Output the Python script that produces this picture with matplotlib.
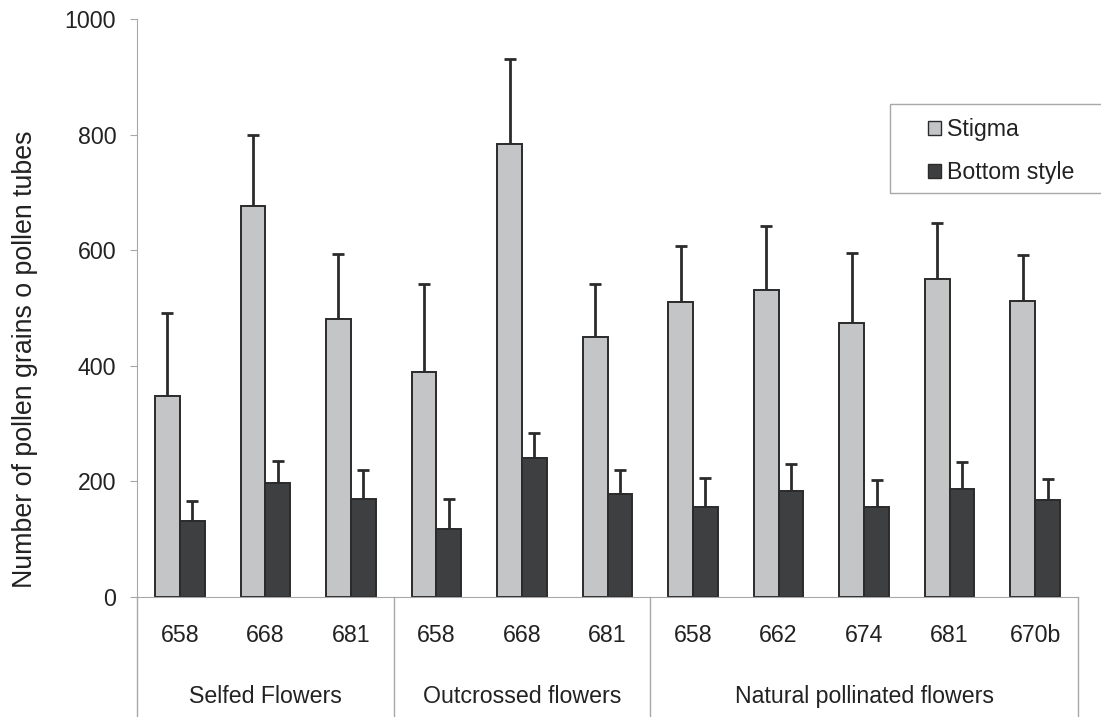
import numpy as np
import matplotlib
matplotlib.use("Agg")
import matplotlib.pyplot as plt
import matplotlib.transforms as mtransforms
from matplotlib.patches import Patch, Rectangle

plt.rcParams["font.family"] = ["Liberation Sans", "DejaVu Sans"]

# data
lines = ["658", "668", "681", "658", "668", "681", "658", "662", "674", "681", "670b"]
groups = ["Selfed Flowers", "Outcrossed flowers", "Natural pollinated flowers"]
group_sizes = [3, 3, 5]

stigma = [347, 677, 481, 390, 783, 450, 511, 532, 474, 551, 512]
stigma_err = [144, 122, 112, 152, 148, 92, 97, 110, 122, 96, 79]
bottom = [132, 197, 169, 118, 240, 178, 156, 183, 155, 186, 168]
bottom_err = [34, 38, 50, 51, 44, 41, 50, 47, 47, 47, 37]

LIGHT = "#c4c5c7"
DARK = "#3e3f41"
EDGE = "#2b2b2b"
AXGRAY = "#a8a8a8"
TXT = "#222222"
FS = 16.7

W, H = 1101, 717
fig = plt.figure(figsize=(W / 100, H / 100), dpi=100)
ax = fig.add_axes([137 / W, (H - 597) / H, (1078 - 137) / W, 578 / H])

x = np.arange(len(lines))
w = 0.29
ax.bar(x - w / 2, stigma, w, color=LIGHT, edgecolor=EDGE, linewidth=1.4, zorder=2)
ax.bar(x + w / 2, bottom, w, color=DARK, edgecolor=EDGE, linewidth=1.4, zorder=2)
ax.errorbar(x - w / 2, stigma, yerr=[np.zeros(len(x)), stigma_err], fmt="none",
            ecolor=EDGE, elinewidth=2, capsize=4, capthick=2, zorder=1)
ax.errorbar(x + w / 2, bottom, yerr=[np.zeros(len(x)), bottom_err], fmt="none",
            ecolor=EDGE, elinewidth=2, capsize=4, capthick=2, zorder=1)

ax.set_xlim(-0.5, len(lines) - 0.5)
ax.set_ylim(0, 1000)
ax.set_yticks(range(0, 1001, 200))
ax.tick_params(axis="y", direction="out", length=5, color=AXGRAY, labelsize=FS, pad=10,
               labelcolor=TXT)
ax.set_xticks([])
for s in ["top", "right"]:
    ax.spines[s].set_visible(False)
ax.spines["left"].set_color(AXGRAY)
ax.spines["bottom"].set_color(AXGRAY)

fig.text(25 / W, 1 - 359 / H, "Number of pollen grains o pollen tubes", rotation=90,
         ha="center", va="center", fontsize=19.3, color=TXT)

# category table below the axis
trans = mtransforms.blended_transform_factory(ax.transData, ax.transAxes)
for i, lab in enumerate(lines):
    ax.text(i, -0.066, lab, transform=trans, ha="center", va="center", fontsize=FS, color=TXT)

edges = np.concatenate([[0], np.cumsum(group_sizes)]) - 0.5
for e in edges:
    ax.plot([e, e], [0, -0.21], transform=trans, color=AXGRAY, linewidth=1, clip_on=False)
for g, a, b in zip(groups, edges[:-1], edges[1:]):
    ax.text((a + b) / 2, -0.173, g, transform=trans, ha="center", va="center", fontsize=FS, color=TXT)

# legend: frame drawn separately so its padding can match the reference
fig.patches.append(Rectangle((890 / W, 1 - 193 / H), 220 / W, 89 / H, transform=fig.transFigure,
                             facecolor="white", edgecolor=AXGRAY, linewidth=1, zorder=3))
handles = [Patch(facecolor=LIGHT, edgecolor=EDGE, label="Stigma"),
           Patch(facecolor=DARK, edgecolor=EDGE, label="Bottom style")]
leg = fig.legend(handles=handles, loc="upper left", bbox_to_anchor=(928 / W, 1 - 118 / H),
                 fontsize=FS, frameon=False, handlelength=0.55, handleheight=0.55,
                 handletextpad=0.25, labelspacing=0.87, borderpad=0, borderaxespad=0)
leg.set_zorder(4)
for t in leg.get_texts():
    t.set_color(TXT)

fig.savefig("out.png", dpi=100)
